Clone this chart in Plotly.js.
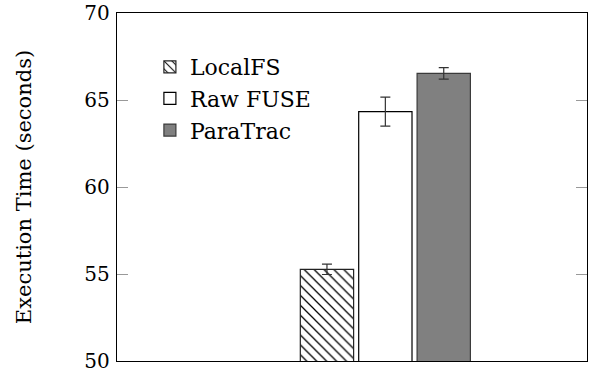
<!DOCTYPE html>
<html>
<head>
<meta charset="utf-8">
<script src="https://cdn.plot.ly/plotly-3.0.1.min.js"></script>
<style>html,body{margin:0;padding:0;background:#fff;}#chart{width:602px;height:374px;}</style>
</head>
<body>
<div id="chart"></div>
<script>
const seriesNames = ["LocalFS", "Raw FUSE", "ParaTrac"];
const values = [55.27, 64.33, 66.53];
const errors = [0.3, 0.83, 0.33];
const yTicks = [50, 55, 60, 65, 70];

const FONT = "DejaVu Serif, serif";

const styles = [
  {color: "#ffffff", line: "#222222", pattern: {shape: "\\", fgcolor: "#000000", bgcolor: "#ffffff", size: 7, solidity: 0.18}},
  {color: "#ffffff", line: "#000000", pattern: null},
  {color: "#808080", line: "#3a3a3a", pattern: null}
];

const traces = seriesNames.map((name, i) => {
  const marker = {color: styles[i].color, line: {color: styles[i].line, width: 1.2}};
  if (styles[i].pattern) marker.pattern = styles[i].pattern;
  return {
    type: "bar",
    name: name,
    x: [0],
    y: [values[i]],
    base: 0,
    marker: marker,
    error_y: {type: "data", array: [errors[i]], visible: true, color: "#333333", thickness: 1.2, width: 5}
  };
});

const layout = {
  width: 602, height: 374,
  margin: {l: 117, r: 15, t: 13, b: 13},
  paper_bgcolor: "#ffffff",
  plot_bgcolor: "#ffffff",
  barmode: "group",
  bargap: 0.5,
  bargroupgap: 0.087,
  showlegend: true,
  legend: {
    x: 0.07, y: 0.905, xanchor: "left", yanchor: "top",
    bgcolor: "rgba(0,0,0,0)", borderwidth: 0,
    font: {family: FONT, size: 22, color: "#000"},
    traceorder: "normal",
    itemwidth: 30
  },
  xaxis: {
    type: "linear",
    range: [-0.766, 0.5756],
    showticklabels: false,
    ticks: "",
    showgrid: false,
    zeroline: false,
    showline: true, linecolor: "#000", linewidth: 1.2, mirror: true,
    fixedrange: true
  },
  yaxis: {
    range: [50, 70],
    tickvals: yTicks,
    ticktext: yTicks.map(String),
    ticks: "inside", ticklen: 11, tickcolor: "#999999", tickwidth: 1,
    mirror: "ticks",
    showgrid: false, zeroline: false,
    showline: true, linecolor: "#000", linewidth: 1.2,
    tickfont: {family: FONT, size: 20, color: "#000"},
    ticklabelstandoff: 2,
    title: {text: "Execution Time (seconds)", font: {family: FONT, size: 21, color: "#000"}, standoff: 47},
    fixedrange: true
  }
};

Plotly.newPlot("chart", traces, layout, {displayModeBar: false, staticPlot: true});
</script>
</body>
</html>
